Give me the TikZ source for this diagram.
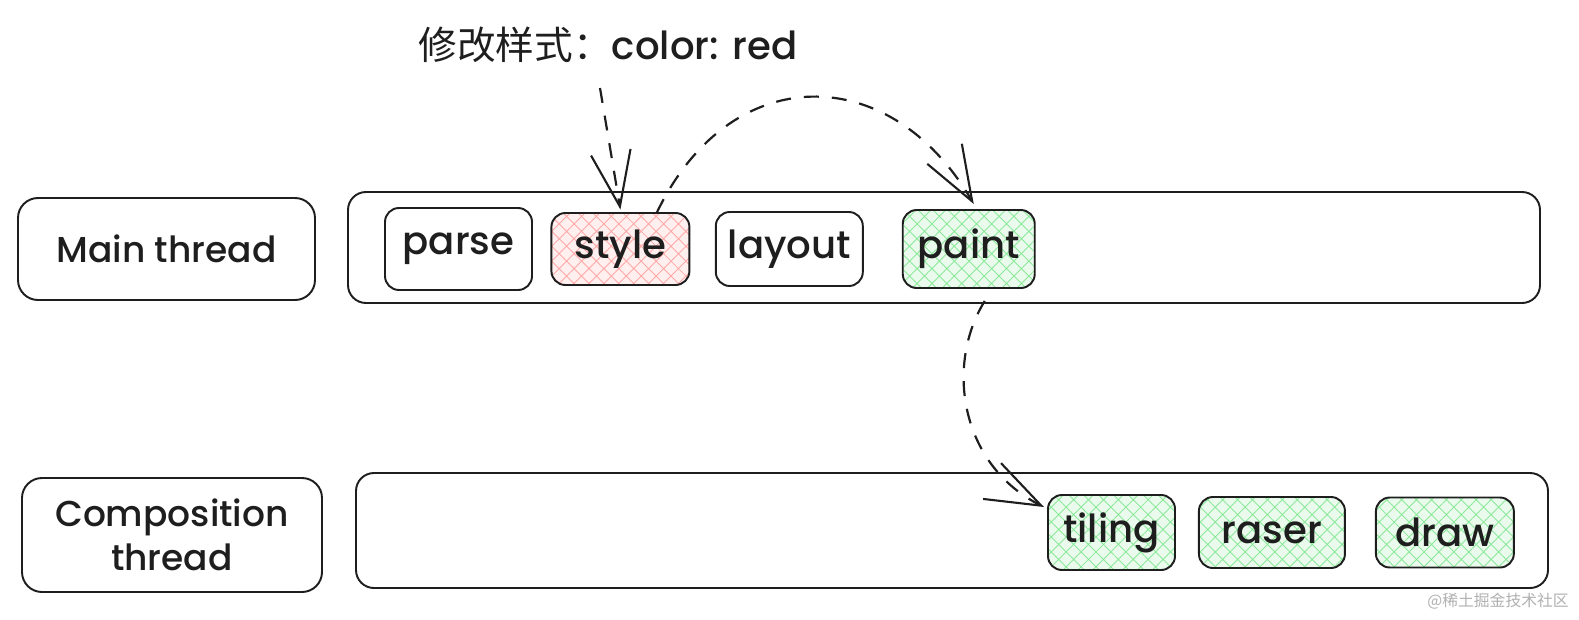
\documentclass[tikz,border=0pt]{standalone}
\usepackage{fontspec}
\setmainfont{Poppins}[UprightFont={* Medium}]
\newfontfamily\cjk{Noto Sans CJK SC}
\usetikzlibrary{arrows.meta,positioning,patterns.meta}
\definecolor{inkgray}{HTML}{1E1E1E}
\definecolor{hatchred}{HTML}{FFA8A8}
\definecolor{hatchgreen}{HTML}{8CE99A}
\definecolor{markgray}{HTML}{B0B0B0}

\begin{document}
\begin{tikzpicture}[
      label/.style={rectangle, draw=inkgray, line width=1.1pt, rounded corners=0.4cm, align=center, font=\fontsize{20.5}{25}\selectfont, text=inkgray},
      lane/.style={rectangle, draw=inkgray, line width=1.1pt, rounded corners=0.36cm, minimum width=23.84cm},
      task/.style={rectangle, draw=inkgray, line width=1.1pt, rounded corners=0.28cm, font=\fontsize{22}{26}\selectfont, text=inkgray, inner sep=0pt},
      redtask/.style={task, preaction={fill=hatchred!18}, pattern={Hatch[angle=45,distance=6pt,line width=0.5pt]}, pattern color=hatchred},
      greentask/.style={task, preaction={fill=hatchgreen!18}, pattern={Hatch[angle=45,distance=6pt,line width=0.5pt]}, pattern color=hatchgreen},
      flow/.style={-{Straight Barb[length=1.1cm,width=0.8cm,line width=1.2pt]}, dash pattern=on 3mm off 2.6mm, line width=1.25pt, color=inkgray}
    ]
      \useasboundingbox (0,0) rectangle (31.58,-12.38);

      % labels and lanes
      \node[label, minimum width=5.94cm, minimum height=2.04cm] (mainlbl) at (3.33,-4.98) {Main thread};
      \node[lane, minimum height=2.22cm] (mainlane) at (18.88,-4.95) {};
      \node[label, minimum width=6.0cm, minimum height=2.28cm] (complbl) at (3.44,-10.7) {Composition\\thread};
      \node[lane, minimum height=2.3cm] (complane) at (19.04,-10.61) {};

      % main thread tasks
      \node[task, minimum width=2.94cm, minimum height=1.64cm] (parse) at (9.17,-4.98) {parse};
      \node[redtask, minimum width=2.76cm, minimum height=1.44cm, right=0.36cm of parse] (style) {style};
      \node[task, minimum width=2.94cm, minimum height=1.48cm, right=0.5cm of style] (layout) {layout};
      \node[greentask, minimum width=2.64cm, minimum height=1.56cm, right=0.76cm of layout] (paint) {paint};

      % composition thread tasks
      \node[greentask, minimum width=2.54cm, minimum height=1.5cm] (tiling) at (22.23,-10.65) {tiling};
      \node[greentask, minimum width=2.92cm, minimum height=1.42cm, right=0.44cm of tiling] (raser) {raser};
      \node[greentask, minimum width=2.76cm, minimum height=1.4cm, right=0.58cm of raser] (draw) {draw};

      % note
      \node[font=\fontsize{22}{26}\selectfont, text=inkgray] (note) at (12.16,-0.9) {{\cjk 修改样式：}color: red};
      \coordinate (notefoot) at (12.0,-1.76);

      \draw[flow] (notefoot) -- ([yshift=0.06cm]style.north);
      \draw[flow] ([xshift=-0.66cm]style.north east) .. controls (14.6,-1.2) and (17.8,-1.2) .. ([xshift=0.1cm,yshift=0.1cm]paint.north);
      \draw[flow] ([xshift=0.32cm,yshift=-0.24cm]paint.south) .. controls (18.9,-7.3) and (19.2,-9.3) .. ([xshift=-0.06cm,yshift=-0.26cm]tiling.north west);

      \node[font=\fontsize{9}{11}\selectfont\cjk, text=markgray, anchor=south east] (mark) at (31.5,-12.3) {@稀土掘金技术社区};
    \end{tikzpicture}
\end{document}
